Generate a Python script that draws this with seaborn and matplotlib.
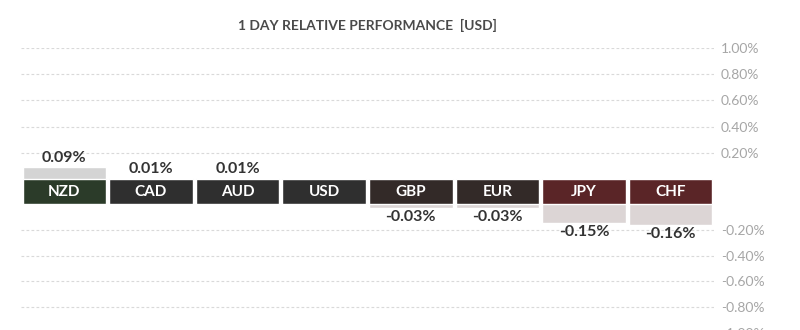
import matplotlib
matplotlib.use("Agg")
import matplotlib.pyplot as plt
import seaborn as sns
import pandas as pd

sns.set_theme(style="white")
plt.rcParams["font.family"] = ["Lato", "DejaVu Sans"]

currencies = ["NZD", "CAD", "AUD", "USD", "GBP", "EUR", "JPY", "CHF"]
change_pct = [0.09, 0.01, 0.01, 0.00, -0.03, -0.03, -0.15, -0.16]
band_colors = ["#2b3b29", "#2f2f2f", "#2f2f2f", "#2f2f2f",
               "#332a28", "#332a28", "#5a2527", "#5a2527"]
pos_ticks = [0.2, 0.4, 0.6, 0.8, 1.0]
neg_ticks = [-0.2, -0.4, -0.6, -0.8, -1.0]

df = pd.DataFrame({"ccy": currencies, "chg": change_pct})
df["up"] = df["chg"].clip(lower=0)
df["down"] = df["chg"].clip(upper=0)
df["band"] = 1.0

W, H = 800, 330
fig = plt.figure(figsize=(W / 100, H / 100), dpi=100)

def frame(y_top, y_bot):
    x0, x1 = 21, 714
    return [x0 / W, 1 - y_bot / H, (x1 - x0) / W, (y_bot - y_top) / H]

ax_up = fig.add_axes(frame(48, 179))
ax_band = fig.add_axes(frame(179, 204))
ax_dn = fig.add_axes(frame(204, 333))

bar_w = 0.965

sns.barplot(data=df, x="ccy", y="up", ax=ax_up, color="#d4d4d4",
            width=bar_w, saturation=1, errorbar=None)
sns.barplot(data=df, x="ccy", y="down", ax=ax_dn, color="#dcd5d5",
            width=bar_w, saturation=1, errorbar=None)
sns.barplot(data=df, x="ccy", y="band", hue="ccy", palette=band_colors,
            ax=ax_band, width=bar_w, saturation=1, errorbar=None, legend=False)

ax_up.set_ylim(0, 1.0)
ax_dn.set_ylim(-1.0, 0)
ax_band.set_ylim(0, 1)

for ax in (ax_up, ax_band, ax_dn):
    ax.set_xlim(-0.5, len(currencies) - 0.5)
    ax.set_xlabel("")
    ax.set_ylabel("")
    ax.set_xticks([])
    for s in ax.spines.values():
        s.set_visible(False)
    ax.patch.set_alpha(0)

ax_band.set_yticks([])

for ax, ticks in ((ax_up, pos_ticks), (ax_dn, neg_ticks)):
    ax.yaxis.tick_right()
    ax.set_yticks(ticks)
    ax.set_yticklabels([f"{t:.2f}%" for t in ticks])
    ax.tick_params(axis="y", length=0, pad=5, labelsize=10,
                   labelcolor="#a6a6a6")
    for t in ticks:
        ax.axhline(t, color="#d9d9d9", lw=0.8, ls=(0, (2.5, 2)), zorder=0)

for i, (c, v) in enumerate(zip(currencies, change_pct)):
    ax_band.text(i, 0.5, c, ha="center", va="center", color="white",
                 fontsize=11, fontweight="bold")
    if v > 0:
        ax_up.annotate(f"{v:.2f}%", (i, v), xytext=(0, 1.5),
                       textcoords="offset points", ha="center", va="bottom",
                       fontsize=11.5, color="#333333", fontweight="bold")
    elif v < 0:
        ax_dn.annotate(f"{v:.2f}%", (i, v), xytext=(0, -1.5),
                       textcoords="offset points", ha="center", va="top",
                       fontsize=11.5, color="#333333", fontweight="bold")

fig.text((21 + 714) / 2 / W, 1 - 25 / H, "1 DAY RELATIVE PERFORMANCE  [USD]",
         ha="center", va="center", fontsize=10, color="#4a4a4a",
         fontweight="bold")

fig.savefig("out.png", dpi=100, facecolor="white")
